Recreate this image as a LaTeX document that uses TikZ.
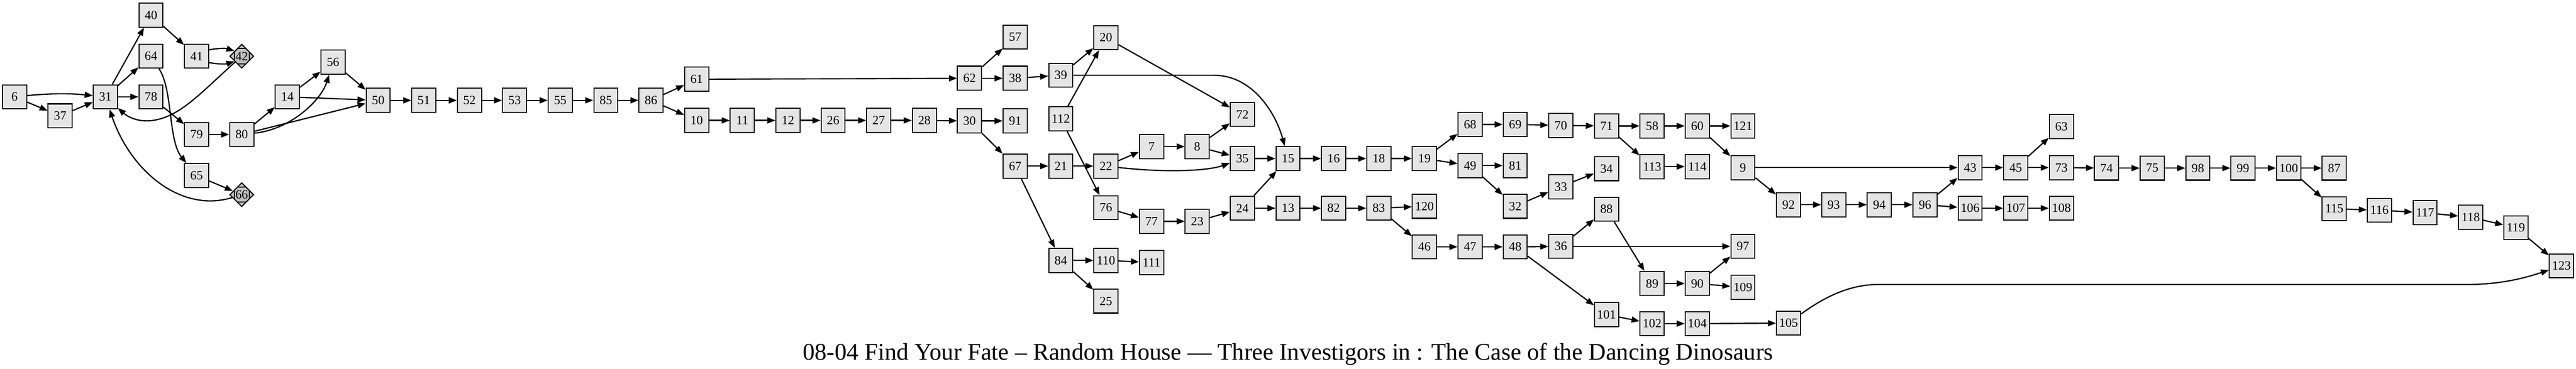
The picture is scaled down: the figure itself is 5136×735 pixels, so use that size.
\documentclass[tikz,border=0pt]{standalone}
\usepackage{fontspec}
\setmainfont{Liberation Serif}
\usetikzlibrary{arrows.meta,shapes.geometric}

\definecolor{boxgray}{gray}{0.9}
\definecolor{endgray}{gray}{0.75}

\begin{document}
\begin{tikzpicture}[x=0.01cm,y=-0.01cm,line width=0.7pt,
		>={Triangle[length=0.16cm,width=0.12cm]},
		pagebox/.style={draw,fill=boxgray,line width=0.6pt,minimum width=0.48cm,minimum height=0.48cm,inner sep=0pt,font=\fontsize{7.1pt}{8pt}\selectfont},
		endbox/.style={shape=diamond,draw,fill=endgray,line width=0.6pt,minimum width=0.48cm,minimum height=0.48cm,inner sep=0pt,font=\fontsize{7.1pt}{8pt}\selectfont}]
		\newcommand{\mdiamond}[4]{ % #1: name, #2: x-coordinate, #3: y-coordinate, #4: label
			\node[endbox] (#1) at (#2,#3) {#4};
			\draw[line width=0.6pt] (#2 - 15,#3 - 9) -- (#2 - 15,#3 + 9);
			\draw[line width=0.6pt] (#2 + 15,#3 - 9) -- (#2 + 15,#3 + 9);
			\draw[line width=0.6pt] (#2 - 9,#3 - 15) -- (#2 + 9,#3 - 15);
			\draw[line width=0.6pt] (#2 - 9,#3 + 15) -- (#2 + 9,#3 + 15);
		}
		\useasboundingbox (0,0) rectangle (5136,735);
		
		%first loop
		\node[pagebox] (n6) at (29,193) {6};
		\node[pagebox] (n37) at (120,231) {37};
		\node[pagebox] (n31) at (210,193) {31};
		\node[pagebox] (n40) at (301,30) {40};
		\node[pagebox] (n64) at (301,112) {64};
		\node[pagebox] (n78) at (301,193) {78};
		\node[pagebox] (n41) at (392,112) {41};
		\node[pagebox] (n79) at (392,268) {79};
		\node[pagebox] (n65) at (392,350) {65};
		\mdiamond{n42}{482}{112}{42}
		\node[pagebox] (n80) at (482,268) {80};
		\mdiamond{n66}{482}{388}{66}
		\node[pagebox] (n14) at (573,193) {14};
		\node[pagebox] (n56) at (664,124) {56};
		
		%long chain
		\node[pagebox] (n50) at (754,200) {50};
		\node[pagebox] (n51) at (845,200) {51};
		\node[pagebox] (n52) at (936,200) {52};
		\node[pagebox] (n53) at (1026,200) {53};
		\node[pagebox] (n55) at (1117,200) {55};
		\node[pagebox] (n85) at (1208,200) {85};
		\node[pagebox] (n86) at (1298,200) {86};
		\node[pagebox] (n61) at (1389,158) {61};
		\node[pagebox] (n10) at (1389,240) {10};
		\node[pagebox] (n11) at (1480,240) {11};
		\node[pagebox] (n12) at (1571,240) {12};
		\node[pagebox] (n26) at (1661,240) {26};
		\node[pagebox] (n27) at (1752,240) {27};
		\node[pagebox] (n28) at (1843,240) {28};
		\node[pagebox] (n62) at (1933,156) {62};
		\node[pagebox] (n30) at (1933,241) {30};
		
		%middle part
		\node[pagebox] (n57) at (2024,74) {57};
		\node[pagebox] (n38) at (2024,156) {38};
		\node[pagebox] (n91) at (2024,241) {91};
		\node[pagebox] (n67) at (2024,331) {67};
		\node[pagebox] (n39) at (2115,150) {39};
		\node[pagebox] (n112) at (2115,237) {112};
		\node[pagebox] (n21) at (2115,331) {21};
		\node[pagebox] (n84) at (2115,519) {84};
		\node[pagebox] (n20) at (2205,75) {20};
		\node[pagebox] (n22) at (2205,331) {22};
		\node[pagebox] (n76) at (2205,414) {76};
		\node[pagebox] (n110) at (2205,519) {110};
		\node[pagebox] (n25) at (2205,600) {25};
		\node[pagebox] (n7) at (2296,292) {7};
		\node[pagebox] (n77) at (2296,441) {77};
		\node[pagebox] (n111) at (2296,523) {111};
		\node[pagebox] (n8) at (2387,292) {8};
		\node[pagebox] (n23) at (2387,441) {23};
		\node[pagebox] (n72) at (2477,228) {72};
		\node[pagebox] (n35) at (2477,316) {35};
		\node[pagebox] (n24) at (2477,415) {24};
		\node[pagebox] (n15) at (2568,316) {15};
		\node[pagebox] (n13) at (2568,415) {13};
		\node[pagebox] (n16) at (2659,316) {16};
		\node[pagebox] (n82) at (2659,415) {82};
		\node[pagebox] (n18) at (2749,316) {18};
		\node[pagebox] (n83) at (2749,415) {83};
		\node[pagebox] (n19) at (2840,316) {19};
		\node[pagebox] (n120) at (2840,411) {120};
		\node[pagebox] (n46) at (2840,492) {46};
		\node[pagebox] (n68) at (2931,248) {68};
		\node[pagebox] (n49) at (2931,330) {49};
		\node[pagebox] (n47) at (2931,492) {47};
		\node[pagebox] (n69) at (3021,248) {69};
		\node[pagebox] (n81) at (3021,330) {81};
		\node[pagebox] (n32) at (3021,411) {32};
		\node[pagebox] (n48) at (3021,492) {48};
		\node[pagebox] (n70) at (3112,250) {70};
		\node[pagebox] (n33) at (3112,372) {33};
		\node[pagebox] (n36) at (3112,491) {36};
		\node[pagebox] (n71) at (3203,251) {71};
		\node[pagebox] (n34) at (3203,336) {34};
		\node[pagebox] (n88) at (3203,417) {88};
		\node[pagebox] (n101) at (3203,627) {101};
		\node[pagebox] (n58) at (3294,251) {58};
		\node[pagebox] (n113) at (3294,332) {113};
		\node[pagebox] (n89) at (3294,565) {89};
		\node[pagebox] (n102) at (3294,645) {102};
		\node[pagebox] (n60) at (3384,251) {60};
		\node[pagebox] (n114) at (3384,332) {114};
		\node[pagebox] (n90) at (3384,565) {90};
		\node[pagebox] (n104) at (3384,645) {104};
		\node[pagebox] (n121) at (3475,251) {121};
		\node[pagebox] (n9) at (3475,334) {9};
		\node[pagebox] (n97) at (3475,491) {97};
		\node[pagebox] (n109) at (3475,573) {109};
		\node[pagebox] (n92) at (3566,408) {92};
		\node[pagebox] (n105) at (3566,644) {105};
		
		%last part
		\node[pagebox] (n93) at (3656,408) {93};
		\node[pagebox] (n94) at (3747,408) {94};
		\node[pagebox] (n96) at (3838,408) {96};
		\node[pagebox] (n43) at (3928,334) {43};
		\node[pagebox] (n106) at (3928,415) {106};
		\node[pagebox] (n45) at (4019,334) {45};
		\node[pagebox] (n107) at (4019,415) {107};
		\node[pagebox] (n63) at (4110,252) {63};
		\node[pagebox] (n73) at (4110,334) {73};
		\node[pagebox] (n108) at (4110,415) {108};
		\node[pagebox] (n74) at (4200,335) {74};
		\node[pagebox] (n75) at (4291,335) {75};
		\node[pagebox] (n98) at (4382,335) {98};
		\node[pagebox] (n99) at (4472,335) {99};
		\node[pagebox] (n100) at (4563,335) {100};
		\node[pagebox] (n87) at (4654,335) {87};
		\node[pagebox] (n115) at (4654,416) {115};
		\node[pagebox] (n116) at (4744,419) {116};
		\node[pagebox] (n117) at (4835,424) {117};
		\node[pagebox] (n118) at (4926,433) {118};
		\node[pagebox] (n119) at (5016,454) {119};
		\node[pagebox] (n123) at (5107,530) {123};
		
		%edges of the first loop
		\draw[->] (n6) .. controls (100,186) and (140,186) .. (n31);
		\draw[->] (n6) -- (n37);
		\draw[->] (n37) -- (n31);
		\draw[->] (n31) -- (n40);
		\draw[->] (n31) -- (n64);
		\draw[->] (n31) -- (n78);
		\draw[->] (n40) -- (n41);
		\draw[->] (n41.27) .. controls (435,96) and (450,96) .. (n42.145);
		\draw[->] (n41.-27) .. controls (435,128) and (450,128) .. (n42.215);
		\draw[->] (n42) .. controls (400,185) and (360,232) .. (305,240) .. controls (275,244) and (255,233) .. (n31);
		\draw[->] (n64) .. controls (345,180) and (335,280) .. (n65);
		\draw[->] (n78) -- (n79);
		\draw[->] (n79) -- (n80);
		\draw[->] (n65) -- (n66);
		\draw[->] (n66) .. controls (360,425) and (260,340) .. (n31);
		\draw[->] (n80) -- (n14);
		\draw[->] (n80) .. controls (580,258) and (640,200) .. (n56);
		\draw[->] (n80) -- (n50);
		\draw[->] (n14) -- (n56);
		\draw[->] (n14) -- (n50);
		\draw[->] (n56) -- (n50);
		
		%edges of the long chain
		\draw[->] (n50) -- (n51);
		\draw[->] (n51) -- (n52);
		\draw[->] (n52) -- (n53);
		\draw[->] (n53) -- (n55);
		\draw[->] (n55) -- (n85);
		\draw[->] (n85) -- (n86);
		\draw[->] (n86) -- (n61);
		\draw[->] (n86) -- (n10);
		\draw[->] (n61) -- (n62);
		\draw[->] (n10) -- (n11);
		\draw[->] (n11) -- (n12);
		\draw[->] (n12) -- (n26);
		\draw[->] (n26) -- (n27);
		\draw[->] (n27) -- (n28);
		\draw[->] (n28) -- (n30);
		
		%edges of the middle part
		\draw[->] (n62) -- (n57);
		\draw[->] (n62) -- (n38);
		\draw[->] (n30) -- (n91);
		\draw[->] (n30) -- (n67);
		\draw[->] (n38) -- (n39);
		\draw[->] (n39) -- (n20);
		\draw[->] (n39) -- (2420,150) .. controls (2500,150) and (2545,230) .. (n15);
		\draw[->] (n112) -- (n20);
		\draw[->] (n112) -- (n76);
		\draw[->] (n67) -- (n21);
		\draw[->] (n67) -- (n84);
		\draw[->] (n21) -- (n22);
		\draw[->] (n22) -- (n7);
		\draw[->] (n22) .. controls (2330,345) and (2410,340) .. (n35);
		\draw[->] (n20) -- (n72);
		\draw[->] (n7) -- (n8);
		\draw[->] (n8) -- (n72);
		\draw[->] (n8) -- (n35);
		\draw[->] (n35) -- (n15);
		\draw[->] (n76) -- (n77);
		\draw[->] (n77) -- (n23);
		\draw[->] (n23) -- (n24);
		\draw[->] (n24) -- (n15);
		\draw[->] (n24) -- (n13);
		\draw[->] (n84) -- (n110);
		\draw[->] (n84) -- (n25);
		\draw[->] (n110) -- (n111);
		\draw[->] (n15) -- (n16);
		\draw[->] (n16) -- (n18);
		\draw[->] (n18) -- (n19);
		\draw[->] (n19) -- (n68);
		\draw[->] (n19) -- (n49);
		\draw[->] (n68) -- (n69);
		\draw[->] (n69) -- (n70);
		\draw[->] (n70) -- (n71);
		\draw[->] (n49) -- (n81);
		\draw[->] (n49) -- (n32);
		\draw[->] (n32) -- (n33);
		\draw[->] (n33) -- (n34);
		\draw[->] (n13) -- (n82);
		\draw[->] (n82) -- (n83);
		\draw[->] (n83) -- (n120);
		\draw[->] (n83) -- (n46);
		\draw[->] (n46) -- (n47);
		\draw[->] (n47) -- (n48);
		\draw[->] (n48) -- (n36);
		\draw[->] (n48) -- (n101);
		\draw[->] (n36) -- (n88);
		\draw[->] (n36) -- (n97);
		\draw[->] (n88) -- (n89);
		\draw[->] (n89) -- (n90);
		\draw[->] (n90) -- (n97);
		\draw[->] (n90) -- (n109);
		\draw[->] (n101) -- (n102);
		\draw[->] (n102) -- (n104);
		\draw[->] (n104) -- (n105);
		\draw[->] (n71) -- (n58);
		\draw[->] (n71) -- (n113);
		\draw[->] (n58) -- (n60);
		\draw[->] (n60) -- (n121);
		\draw[->] (n60) -- (n9);
		\draw[->] (n113) -- (n114);
		\draw[->] (n9) -- (n43);
		\draw[->] (n9) -- (n92);
		
		%edges of the last part
		\draw[->] (n92) -- (n93);
		\draw[->] (n93) -- (n94);
		\draw[->] (n94) -- (n96);
		\draw[->] (n96) -- (n43);
		\draw[->] (n96) -- (n106);
		\draw[->] (n43) -- (n45);
		\draw[->] (n45) -- (n63);
		\draw[->] (n45) -- (n73);
		\draw[->] (n106) -- (n107);
		\draw[->] (n107) -- (n108);
		\draw[->] (n73) -- (n74);
		\draw[->] (n74) -- (n75);
		\draw[->] (n75) -- (n98);
		\draw[->] (n98) -- (n99);
		\draw[->] (n99) -- (n100);
		\draw[->] (n100) -- (n87);
		\draw[->] (n100) -- (n115);
		\draw[->] (n115) -- (n116);
		\draw[->] (n116) -- (n117);
		\draw[->] (n117) -- (n118);
		\draw[->] (n118) -- (n119);
		\draw[->] (n119) -- (n123);
		\draw[->] (n105) .. controls (3640,590) and (3690,567) .. (3745,567) -- (4920,567) .. controls (4990,567) and (5040,552) .. (n123);
		
		%title
		\node[anchor=base,font=\fontsize{13.6pt}{16pt}\selectfont] (title) at (2568,717) {08-04 Find Your Fate – Random House — Three Investigors in : The Case of the Dancing Dinosaurs};
		
	\end{tikzpicture}
\end{document}
